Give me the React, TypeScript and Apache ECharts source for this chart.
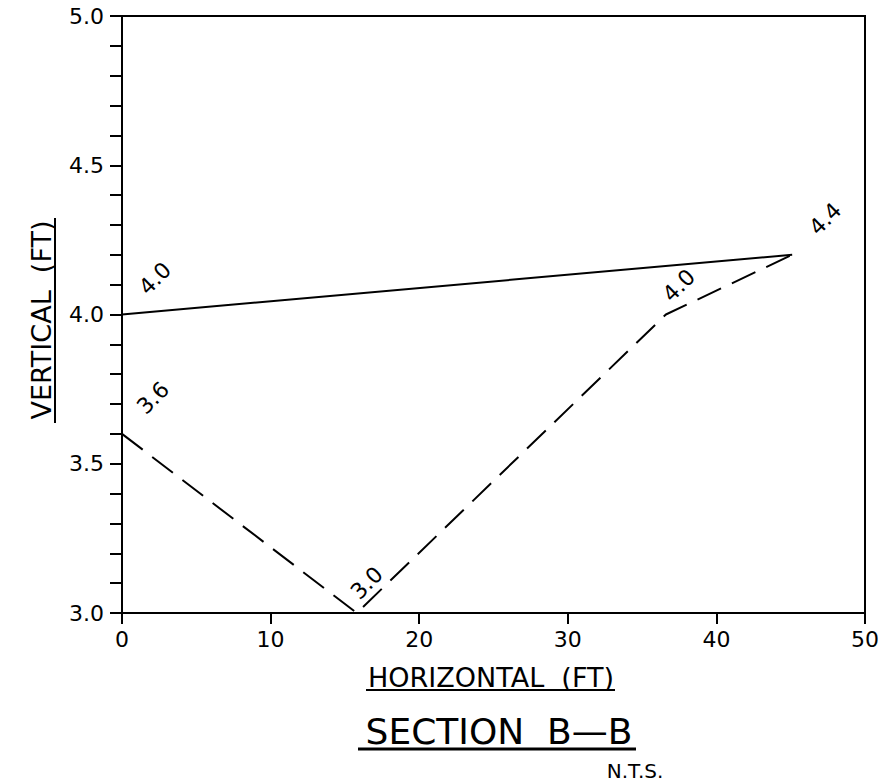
import React, { useEffect, useRef } from "react";
import * as echarts from "echarts";

const topSurfaceX = [0, 45.1];
const topSurfaceY = [4.0, 4.2];
const bottomX = [0, 15.8, 36.6, 45.1];
const bottomY = [3.6, 3.0, 4.0, 4.2];
const labelX = [0, 0, 15.8, 36.6, 45.1];
const labelY = [4.0, 3.6, 3.0, 4.0, 4.2];
const labelText = ["4.0", "3.6", "3.0", "4.0", "4.4"];
const labelOffsets = [[33, -36], [31, -36], [10, -30], [13, -29], [33, -36]];
const xTicks = [0, 10, 20, 30, 40, 50];
const yLabels = [3.0, 3.5, 4.0, 4.5, 5.0];

const FONT = "DejaVu Sans";

export default function App() {
  const ref = useRef<HTMLDivElement>(null);
  useEffect(() => {
    if (!ref.current) return;
    const chart = echarts.init(ref.current, null, { renderer: "svg" });
    const topData = topSurfaceX.map((x, i) => [x, topSurfaceY[i]]);
    const botData = bottomX.map((x, i) => [x, bottomY[i]]);
    chart.setOption({
      animation: false,
      backgroundColor: "#fff",
      grid: {
        left: 122,
        right: 14,
        top: 16,
        bottom: 169,
        show: true,
        borderColor: "#000",
        borderWidth: 2,
      },
      xAxis: {
        type: "value",
        min: 0,
        max: 50,
        interval: 10,
        axisLine: { show: true, onZero: false, lineStyle: { color: "#000", width: 2 } },
        axisTick: { show: true, inside: false, length: 11, lineStyle: { color: "#000", width: 2 } },
        splitLine: { show: false },
        axisLabel: {
          show: true,
          color: "#000",
          fontSize: 22,
          fontFamily: FONT,
          margin: 15,
          formatter: (v: number) => (xTicks.includes(v) ? String(v) : ""),
        },
      },
      yAxis: {
        type: "value",
        min: 3.0,
        max: 5.0,
        interval: 0.1,
        axisLine: { show: true, onZero: false, lineStyle: { color: "#000", width: 2 } },
        axisTick: { show: true, inside: false, length: 12, lineStyle: { color: "#000", width: 2 } },
        splitLine: { show: false },
        axisLabel: {
          show: true,
          color: "#000",
          fontSize: 22,
          fontFamily: FONT,
          margin: 18,
          showMinLabel: true,
          showMaxLabel: true,
          formatter: (v: number) => {
            const m = yLabels.find((y) => Math.abs(y - v) < 1e-6);
            return m !== undefined ? m.toFixed(1) : "";
          },
        },
      },
      series: [
        {
          type: "line",
          data: topData,
          symbol: "none",
          lineStyle: { color: "#000", width: 2, type: "solid" },
        },
        {
          type: "line",
          data: botData,
          symbol: "none",
          lineStyle: { color: "#000", width: 2, type: [26, 12] },
        },
      ],
    });

    const labelGraphics = labelX.map((x, i) => {
      const p = chart.convertToPixel({ gridIndex: 0 }, [x, labelY[i]]) as number[];
      return {
        type: "text",
        x: p[0] + labelOffsets[i][0],
        y: p[1] + labelOffsets[i][1],
        rotation: Math.PI / 4,
        style: {
          text: labelText[i],
          fontSize: 22,
          fontFamily: FONT,
          fill: "#000",
          align: "center",
          verticalAlign: "middle",
        },
      };
    });

    chart.setOption({
      graphic: [
        ...labelGraphics,
        {
          type: "text",
          x: 491,
          y: 677,
          style: {
            text: "HORIZONTAL  (FT)",
            fontSize: 27,
            fontFamily: FONT,
            fill: "#000",
            align: "center",
            verticalAlign: "middle",
          },
        },
        { type: "line", shape: { x1: 366, y1: 690, x2: 615, y2: 690 }, style: { stroke: "#000", lineWidth: 2 } },
        {
          type: "text",
          x: 41,
          y: 320,
          rotation: Math.PI / 2,
          style: {
            text: "VERTICAL  (FT)",
            fontSize: 27,
            fontFamily: FONT,
            fill: "#000",
            align: "center",
            verticalAlign: "middle",
          },
        },
        { type: "line", shape: { x1: 55, y1: 218, x2: 55, y2: 423 }, style: { stroke: "#000", lineWidth: 2 } },
        {
          type: "text",
          x: 499,
          y: 731,
          style: {
            text: "SECTION  B\u2014B",
            fontSize: 36,
            fontFamily: FONT,
            fill: "#000",
            align: "center",
            verticalAlign: "middle",
          },
        },
        { type: "line", shape: { x1: 358, y1: 749, x2: 636, y2: 749 }, style: { stroke: "#000", lineWidth: 3 } },
        {
          type: "text",
          x: 635,
          y: 771,
          style: {
            text: "N.T.S.",
            fontSize: 20,
            fontFamily: FONT,
            fill: "#000",
            align: "center",
            verticalAlign: "middle",
          },
        },
      ],
    });
    return () => chart.dispose();
  }, []);
  return <div ref={ref} style={{ width: 882, height: 782, position: "absolute", left: 0, top: 0 }} />;
}
